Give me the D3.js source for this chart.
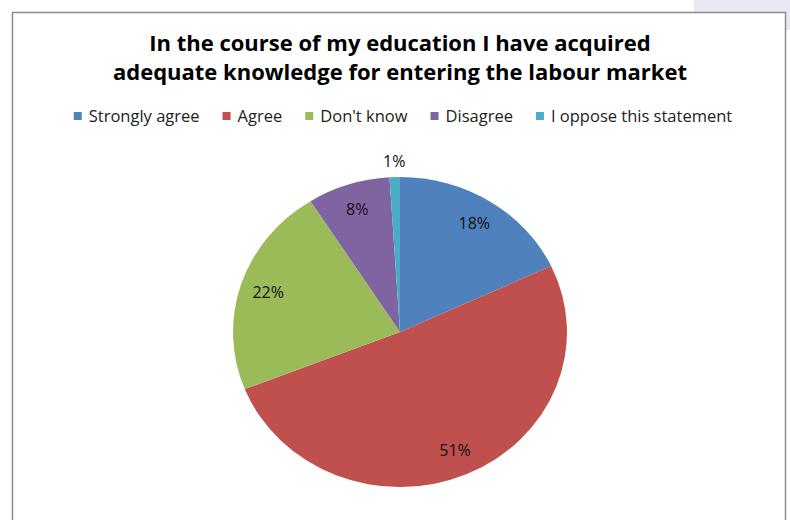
<!DOCTYPE html>
<html>
<head>
<meta charset="utf-8">
<script src="https://cdn.jsdelivr.net/npm/d3@7"></script>
<style>
	html, body { margin: 0; padding: 0; background: #fff; }
	svg { display: block; font-family: "Open Sans", Lato, sans-serif; }
</style>
</head>
<body>
<svg id="chart" width="790" height="520"></svg>
<script>
// Chart data
const titleLines = [
	"In the course of my education I have acquired",
	"adequate knowledge for entering the labour market",
]
const categories = ["Strongly agree", "Agree", "Don't know", "Disagree", "I oppose this statement"]
const values = [18, 51, 22, 8, 1]
const colours = ["#4f81bd", "#c0504d", "#9bbb59", "#8064a2", "#4bacc6"]

const svg = d3.select("#chart")

// Lavender shape peeking out behind the chart frame (top right)
svg.append("rect")
	.attr("x", 694)
	.attr("y", -10)
	.attr("width", 120)
	.attr("height", 40)
	.attr("rx", 6)
	.attr("fill", "#e9e9f5")

// Chart frame
svg.append("rect")
	.attr("x", 12.5)
	.attr("y", 12.5)
	.attr("width", 773)
	.attr("height", 530)
	.attr("fill", "#fff")
	.attr("stroke", "#8c8c8c")
	.attr("stroke-width", 1.5)

// Title
svg.append("g")
	.attr("class", "title")
	.selectAll("text")
	.data(titleLines)
	.join("text")
	.attr("x", 400)
	.attr("y", (d, i) => 51 + i * 29)
	.attr("text-anchor", "middle")
	.attr("font-weight", "bold")
	.attr("font-size", 22)
	.attr("fill", "#000")
	.text(d => d)

// Legend, laid out left to right from measured text widths
const legend = svg.append("g").attr("class", "legend")
const items = legend.selectAll("g.item")
	.data(categories)
	.join("g")
	.attr("class", "item")
items.append("rect")
	.attr("width", 8)
	.attr("height", 8)
	.attr("y", -4)
	.attr("fill", (d, i) => colours[i])
items.append("text")
	.attr("x", 15)
	.attr("dy", "0.35em")
	.attr("font-size", 16.5)
	.attr("fill", "#222")
	.text(d => d)

let cursor = 0
items.each(function() {
	let g = d3.select(this)
	let w = g.select("text").node().getComputedTextLength()
	g.attr("transform", `translate(${cursor}, 0)`)
	cursor += 15 + w + 23
})
let legendWidth = cursor - 23
legend.attr("transform", `translate(${403 - legendWidth / 2}, 116)`)

// Pie, slightly squashed vertically
const cx = 400, cy = 332
const rx = 167, ry = 155

const pie = d3.pie().sort(null).value(d => d)
const arcs = pie(values)
const total = d3.sum(values)

const arc = d3.arc().innerRadius(0).outerRadius(rx)
const labelArc = d3.arc().innerRadius(rx * 0.83).outerRadius(rx * 0.83)
const outerLabelArc = d3.arc().innerRadius(rx * 1.1).outerRadius(rx * 1.1)

const plot = svg.append("g")
	.attr("transform", `translate(${cx}, ${cy}) scale(1, ${ry / rx})`)

plot.selectAll("path.slice")
	.data(arcs)
	.join("path")
	.attr("class", "slice")
	.attr("d", arc)
	.attr("fill", (d, i) => colours[i])

// Percent labels (placed outside for the very small slice)
const labels = svg.append("g")
	.attr("transform", `translate(${cx}, ${cy})`)
labels.selectAll("text")
	.data(arcs)
	.join("text")
	.attr("transform", d => {
		let [x, y] = (d.value / total < 0.02 ? outerLabelArc : labelArc).centroid(d)
		return `translate(${x}, ${y * ry / rx})`
	})
	.attr("text-anchor", "middle")
	.attr("dy", "0.35em")
	.attr("font-size", 16)
	.attr("fill", "#111")
	.text(d => Math.round(d.value / total * 100) + "%")
</script>
</body>
</html>
